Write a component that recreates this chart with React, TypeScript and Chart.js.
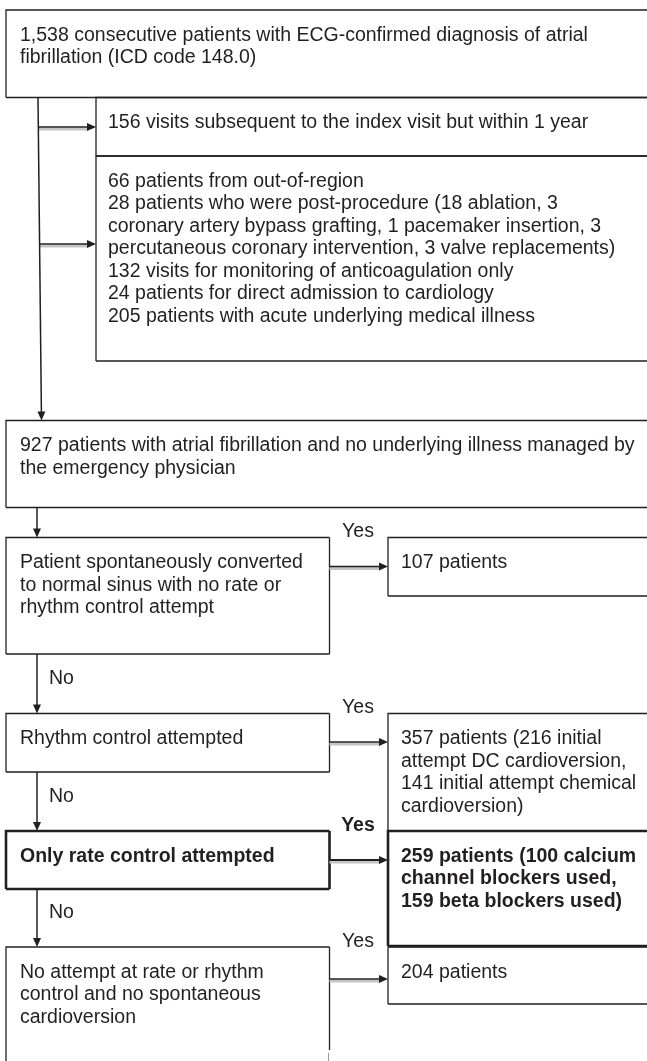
import { useEffect, useRef } from "react";
import { Chart, registerables } from "chart.js";

Chart.register(...registerables);

// ---- content (text of each box, in order) ----
const boxLines: string[][] = [
  ["1,538 consecutive patients with ECG-confirmed diagnosis of atrial", "fibrillation (ICD code 148.0)"],
  ["156 visits subsequent to the index visit but within 1 year"],
  [
    "66 patients from out-of-region",
    "28 patients who were post-procedure (18 ablation, 3",
    "coronary artery bypass grafting, 1 pacemaker insertion, 3",
    "percutaneous coronary intervention, 3 valve replacements)",
    "132 visits for monitoring of anticoagulation only",
    "24 patients for direct admission to cardiology",
    "205 patients with acute underlying medical illness",
  ],
  ["927 patients with atrial fibrillation and no underlying illness managed by", "the emergency physician"],
  ["Patient spontaneously converted", "to normal sinus with no rate or", "rhythm control attempt"],
  ["107 patients"],
  ["Rhythm control attempted"],
  ["357 patients (216 initial", "attempt DC cardioversion,", "141 initial attempt chemical", "cardioversion)"],
  ["Only rate control attempted"],
  ["259 patients (100 calcium", "channel blockers used,", "159 beta blockers used)"],
  ["No attempt at rate or rhythm", "control and no spontaneous", "cardioversion"],
  ["204 patients"],
];
const boxBold: boolean[] = [false, false, false, false, false, false, false, false, true, true, false, false];

const yesLabels: string[] = ["Yes", "Yes", "Yes", "Yes"];
const yesBold: boolean[] = [false, false, true, false];
const noLabels: string[] = ["No", "No", "No"];

// ---- layout (scale units, x: 0..647, y: 0..1061 top-down) ----
// [left, top, right, bottom, rightEdgeEnd]
const boxRects: number[][] = [
  [6, 10, 670, 97.5, 0],
  [96, 97.5, 670, 156, 0],
  [96, 156, 670, 361, 0],
  [6, 420.5, 670, 507.5, 0],
  [6, 537.5, 329.5, 654, 0],
  [388, 537.5, 670, 596, 0],
  [6, 713.5, 329.5, 772, 0],
  [388, 713.5, 670, 831, 0],
  [6, 831, 329.5, 889, 0],
  [388, 831, 670, 946, 0],
  [6, 947, 329.5, 1090, 1050],
  [388, 947, 670, 1004, 0],
];
// [x0, x1, y, bold]
const hArrows: number[][] = [
  [38, 96, 127, 0],
  [39.5, 96, 244, 0],
  [329.5, 388, 566.5, 0],
  [329.5, 388, 742, 0],
  [329.5, 388, 860, 1],
  [329.5, 388, 979, 0],
];
// [xTop, yTop, xBottom, yBottom]
const vArrows: number[][] = [
  [38, 97.5, 41.5, 420.5],
  [37, 507.5, 37, 537.5],
  [37, 654, 37, 713.5],
  [37, 772, 37, 831],
  [37, 889, 37, 947],
];
const yesPos: number[][] = [
  [358, 532],
  [358, 708],
  [358, 826],
  [358, 942],
];
const noPos: number[][] = [
  [49, 679],
  [49, 797],
  [49, 913],
];

const INK = "#231f20";
const FONT = '"Liberation Sans", Arial, sans-serif';
const FS = 19.5;
const LH = 22.5;

const flowPlugin = {
  id: "flow",
  afterDraw(chart: any) {
    const ctx = chart.ctx as CanvasRenderingContext2D;
    const sx = chart.scales.x;
    const sy = chart.scales.y;
    const X = (v: number) => sx.getPixelForValue(v);
    const Y = (v: number) => sy.getPixelForValue(v);
    ctx.save();
    ctx.fillStyle = "#ffffff";
    ctx.fillRect(0, 0, chart.width, chart.height);

    // boxes
    boxRects.forEach((r, i) => {
      const [l, t, rr, b, cut] = r;
      const bold = boxBold[i];
      ctx.strokeStyle = INK;
      ctx.lineWidth = bold ? 2.6 : 1.3;
      ctx.beginPath();
      ctx.moveTo(X(l), Y(b));
      ctx.lineTo(X(l), Y(t));
      ctx.lineTo(X(rr), Y(t));
      ctx.moveTo(X(rr), Y(t));
      ctx.lineTo(X(rr), Y(cut ? cut : b));
      if (!cut) {
        ctx.moveTo(X(rr), Y(b));
        ctx.lineTo(X(l), Y(b));
      }
      ctx.stroke();
      if (cut) {
        ctx.strokeStyle = "#9a9a9a";
        ctx.lineWidth = 1;
        ctx.beginPath();
        ctx.moveTo(X(rr) - 1, Y(cut + 3));
        ctx.lineTo(X(rr) - 1, Y(1061));
        ctx.stroke();
      }
      // text
      ctx.fillStyle = INK;
      ctx.font = `${bold ? "bold " : ""}${FS}px ${FONT}`;
      ctx.textAlign = "left";
      ctx.textBaseline = "alphabetic";
      const pad = l < 50 ? 14 : l < 200 ? 12 : 13;
      boxLines[i].forEach((line, k) => {
        ctx.fillText(line, X(l + pad), Y(t + 30.5 + k * LH));
      });
    });

    const head = (x: number, y: number, dx: number, dy: number) => {
      const len = 9;
      const hw = 4;
      const nx = -dy;
      const ny = dx;
      ctx.fillStyle = INK;
      ctx.beginPath();
      ctx.moveTo(x, y);
      ctx.lineTo(x - dx * len + nx * hw, y - dy * len + ny * hw);
      ctx.lineTo(x - dx * len - nx * hw, y - dy * len - ny * hw);
      ctx.closePath();
      ctx.fill();
    };

    // horizontal arrows with grey shadow
    hArrows.forEach(([x0, x1, y, b]) => {
      ctx.strokeStyle = "#c4c4c4";
      ctx.lineWidth = 3;
      ctx.beginPath();
      ctx.moveTo(X(x0), Y(y + 2.1));
      ctx.lineTo(X(x1 - 8), Y(y + 2.1));
      ctx.stroke();
      ctx.strokeStyle = INK;
      ctx.lineWidth = b ? 1.8 : 1.5;
      ctx.beginPath();
      ctx.moveTo(X(x0), Y(y));
      ctx.lineTo(X(x1 - 6), Y(y));
      ctx.stroke();
      head(X(x1), Y(y), 1, 0);
    });

    // vertical arrows
    vArrows.forEach(([xa, ya, xb, yb]) => {
      const x0 = X(xa), y0 = Y(ya), x1 = X(xb), y1 = Y(yb);
      const d = Math.hypot(x1 - x0, y1 - y0);
      const ux = (x1 - x0) / d, uy = (y1 - y0) / d;
      ctx.strokeStyle = INK;
      ctx.lineWidth = 1.5;
      ctx.beginPath();
      ctx.moveTo(x0, y0);
      ctx.lineTo(x1 - ux * 6, y1 - uy * 6);
      ctx.stroke();
      head(x1, y1, ux, uy);
    });

    // labels
    ctx.fillStyle = INK;
    ctx.textBaseline = "middle";
    ctx.textAlign = "center";
    yesPos.forEach(([x, y], i) => {
      ctx.font = `${yesBold[i] ? "bold " : ""}${FS}px ${FONT}`;
      ctx.fillText(yesLabels[i], X(x), Y(y));
    });
    ctx.textAlign = "left";
    ctx.font = `${FS}px ${FONT}`;
    noPos.forEach(([x, y], i) => {
      ctx.fillText(noLabels[i], X(x), Y(y));
    });
    ctx.restore();
  },
};

export default function App() {
  const ref = useRef<HTMLCanvasElement | null>(null);
  useEffect(() => {
    document.body.style.margin = "0";
    const canvas = ref.current;
    if (!canvas) return;
    const chart = new Chart(canvas, {
      type: "scatter",
      data: { datasets: [{ data: [], pointRadius: 0 }] },
      options: {
        animation: false,
        responsive: false,
        devicePixelRatio: 1,
        layout: { padding: 0 },
        plugins: { legend: { display: false }, tooltip: { enabled: false } },
        scales: {
          x: { type: "linear", min: 0, max: 647, display: false },
          y: { type: "linear", min: 0, max: 1061, reverse: true, display: false },
        },
      },
      plugins: [flowPlugin],
    });
    return () => chart.destroy();
  }, []);
  return (
    <div style={{ position: "fixed", left: 0, top: 0, width: 647, height: 1061, background: "#fff" }}>
      <canvas ref={ref} width={647} height={1061} style={{ display: "block" }} />
    </div>
  );
}
